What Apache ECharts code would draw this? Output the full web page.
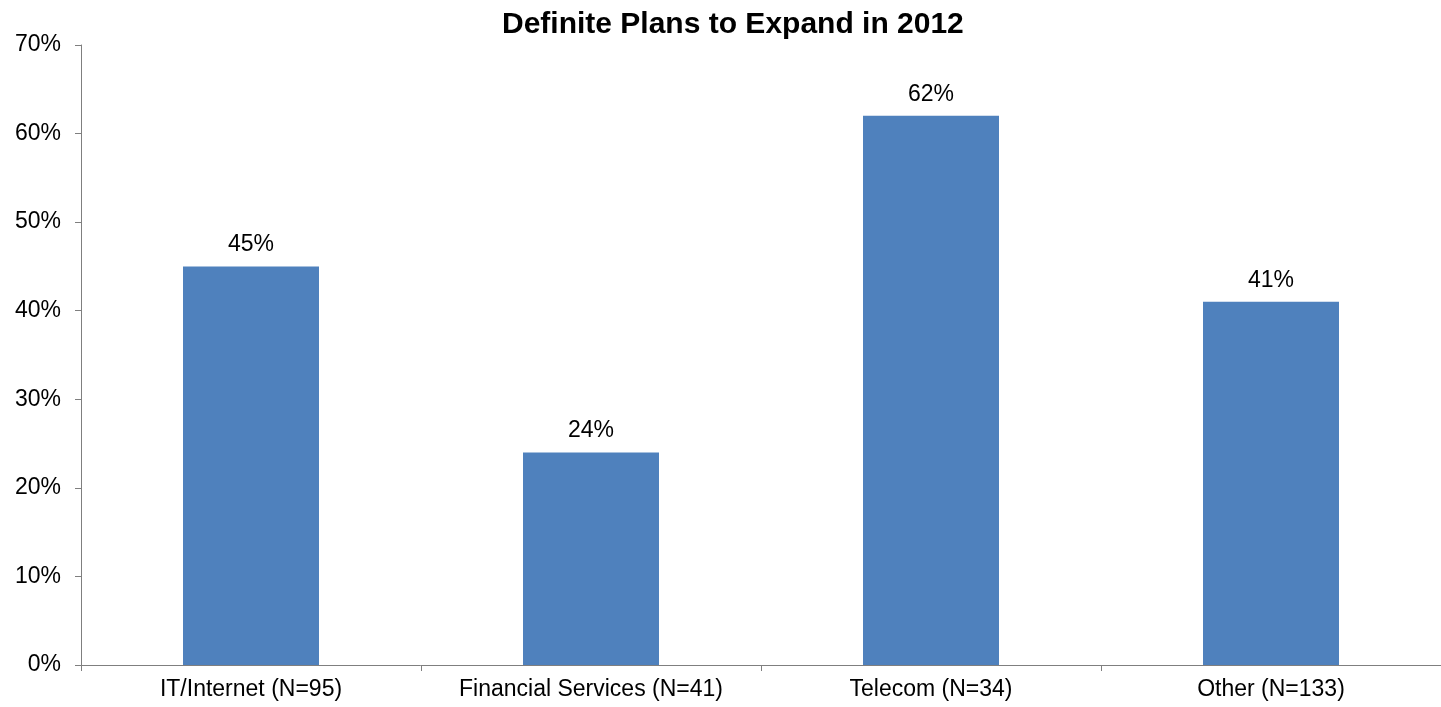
<!DOCTYPE html>
<html>
<head>
<meta charset="utf-8">
<script src="https://cdn.jsdelivr.net/npm/echarts@6/dist/echarts.min.js"></script>
<style>
  html, body { margin: 0; padding: 0; background: #fff; }
  #chart { width: 1441px; height: 707px; }
</style>
</head>
<body>
<div id="chart"></div>
<script>
// Survey segments and the share of each with definite expansion plans
const categories = ['IT/Internet (N=95)', 'Financial Services (N=41)', 'Telecom (N=34)', 'Other (N=133)'];
const planShare = [45, 24, 62, 41];
const yTicks = { min: 0, max: 70, interval: 10 };

const chart = echarts.init(document.getElementById('chart'), null, { renderer: 'canvas' });
const font = 'Liberation Sans, Arial, sans-serif';
const axisGrey = '#7f7f7f';

chart.setOption({
  animation: false,
  title: {
    text: 'Definite Plans to Expand in 2012',
    left: 497,
    top: 5,
    textStyle: { fontFamily: font, fontSize: 30, fontWeight: 'bold', color: '#000' }
  },
  grid: { left: 81, right: 0, top: 45, bottom: 42, containLabel: false },
  xAxis: {
    type: 'category',
    data: categories,
    axisLine: { lineStyle: { color: axisGrey, width: 1 } },
    axisTick: { show: true, interval: 0, length: 6, lineStyle: { color: axisGrey } },
    axisLabel: { interval: 0, hideOverlap: false, fontFamily: font, fontSize: 23, color: '#000', margin: 13 },
    splitLine: { show: false }
  },
  yAxis: {
    type: 'value',
    min: yTicks.min,
    max: yTicks.max,
    interval: yTicks.interval,
    axisLine: { show: true, lineStyle: { color: axisGrey, width: 1 } },
    axisTick: { show: true, length: 6, lineStyle: { color: axisGrey } },
    axisLabel: { fontFamily: font, fontSize: 23, color: '#000', margin: 20, formatter: '{value}%' },
    splitLine: { show: false }
  },
  series: [{
    type: 'bar',
    data: planShare,
    barWidth: '40%',
    itemStyle: { color: '#4F81BD' },
    label: {
      show: true,
      position: 'top',
      distance: 10,
      formatter: '{c}%',
      fontFamily: font,
      fontSize: 23,
      color: '#000'
    }
  }]
});
</script>
</body>
</html>
